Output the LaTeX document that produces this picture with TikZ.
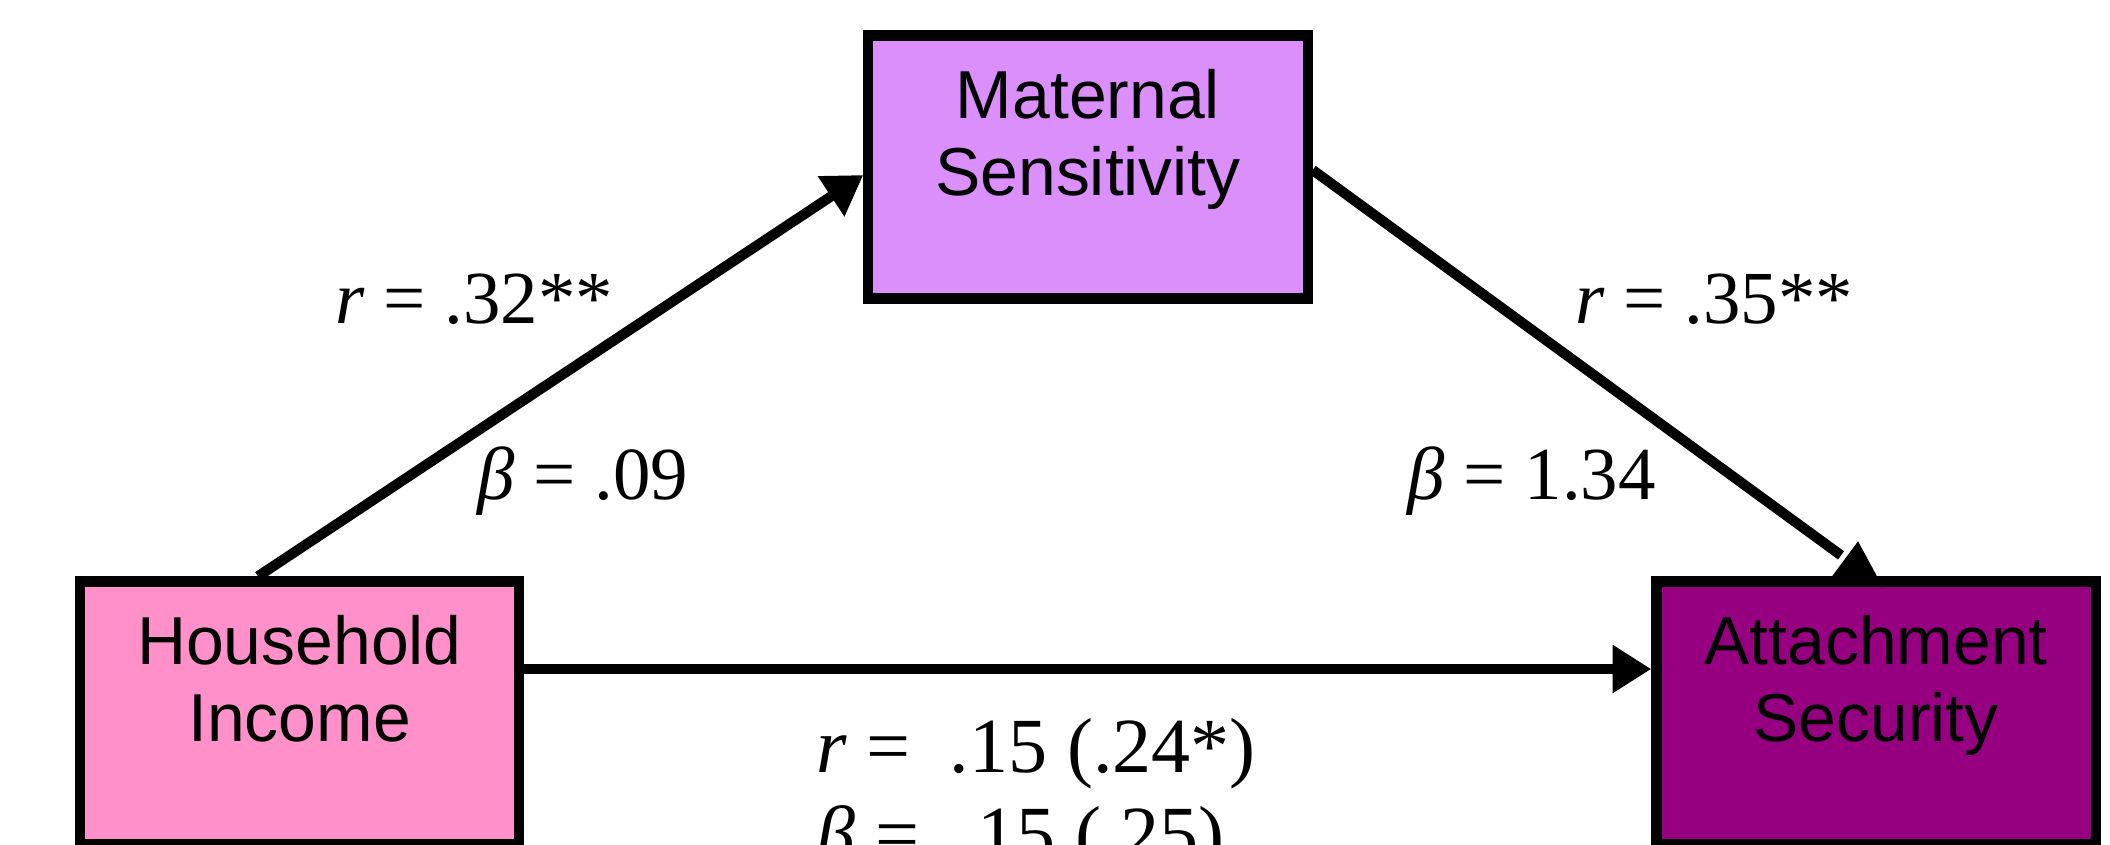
\documentclass[tikz,border=0pt]{standalone}
\usepackage{fontspec}
\setmainfont{Liberation Sans}
\newfontfamily\coeffont{Liberation Serif}
\usetikzlibrary{positioning, arrows.meta, calc}
\definecolor{incpink}{HTML}{FF90CA}
\definecolor{matlilac}{HTML}{DB8FFB}
\definecolor{attplum}{HTML}{960080}

\begin{document}
\begin{tikzpicture}[x=0.01cm, y=0.01cm,
    box/.style={draw=black, line width=2.9pt, minimum width=4.39cm,
                minimum height=2.63cm, inner sep=0pt},
    boxtext/.style={font=\fontsize{19.3}{21.9}\selectfont, align=center,
                    inner sep=0pt, anchor=north},
    coef/.style={font=\coeffont\fontsize{21.3}{24}\selectfont, inner sep=0pt,
                 anchor=base west},
    link/.style={line width=2.9pt, -{Triangle[length=11pt, width=13pt]}}]
  \useasboundingbox (0,0) rectangle (2110,844);
  \clip (0,0) rectangle (2110,844);

  % boxes
  \node[box, fill=incpink] (inc) at (299.5,131) {};
  \node[box, fill=matlilac] (mat) at (1088,677) {};
  \node[box, fill=attplum] (att) at (1876,131) {};
  \node[boxtext] (inctxt) at ($(inc.center)+(0,98)$) {Household\\Income};
  \node[boxtext] (mattxt) at ($(mat.center)+(0,98)$) {Maternal\\Sensitivity};
  \node[boxtext] (atttxt) at ($(att.center)+(0,98)$) {Attachment\\Security};

  % paths
  \draw[link] ($(inc.north)+(-41.5,0)$) -- ($(mat.west)+(0,-8)$);
  \draw[link] ($(inc.east)+(0,44)$) -- ($(att.west)+(0,44)$);
  \coordinate (attend) at ($(att.north)+(-35,21)$);
  \draw[line width=2.9pt] ($(mat.east)+(0,-3)$) -- (attend);
  \fill ($(att.north)+(-18,35)$) -- ($(att.north)+(-44,0)$)
        -- ($(att.north)+(7,-11)$) -- cycle;

  % coefficients
  \node[coef] (rim) at (335,521) {\textit{r} = .32**};
  \node[coef] (bim) at (477,345) {\textit{β} = .09};
  \node[coef] (rma) at (1575,521) {\textit{r} = .35**};
  \node[coef] (bma) at (1407,345) {\textit{β} = 1.34};
  \node[coef, font=\coeffont\fontsize{22.2}{25}\selectfont, align=left,
        anchor=north west] (ria) at (816,126)
        {\textit{r} = ~.15 (.24*)\\\textit{β} = ~.15 (.25)};
\end{tikzpicture}
\end{document}
